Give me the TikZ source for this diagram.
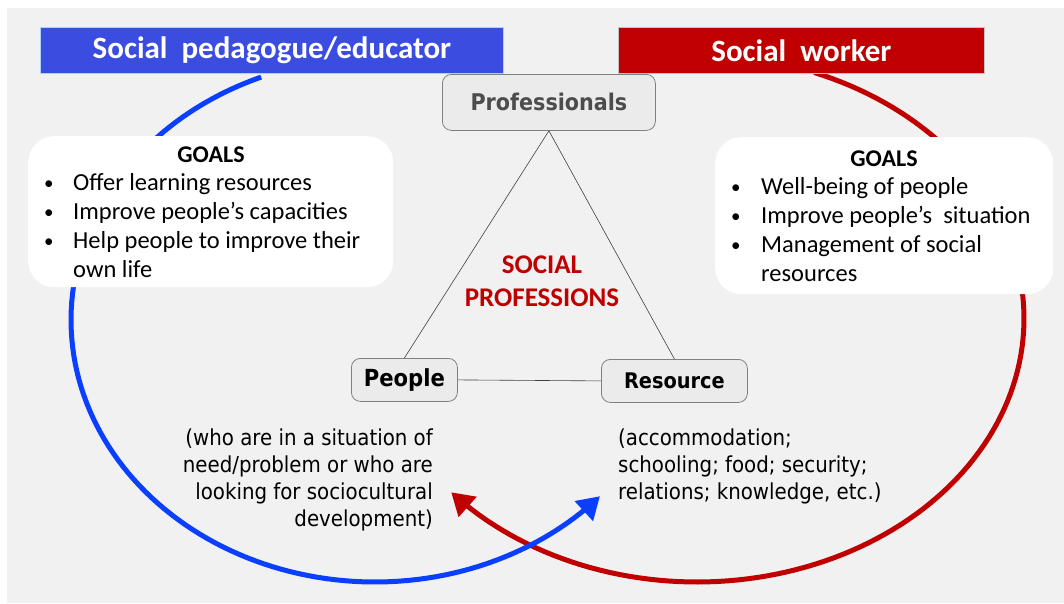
\documentclass[tikz,border=0pt]{standalone}
\usepackage{fontspec}
\setmainfont{Carlito}
\newfontfamily\mmfont{DejaVu Sans Condensed}
\usetikzlibrary{arrows.meta}
\definecolor{bgray}{HTML}{F1F1F1}
\definecolor{titleblue}{HTML}{3B4CE0}
\definecolor{titlered}{HTML}{C00000}
\definecolor{arcblue}{HTML}{0A3FFF}
\definecolor{arcred}{HTML}{C00000}
\definecolor{nodegray}{HTML}{EBEBEB}
\definecolor{edgegray}{HTML}{808080}
\tikzset{
  titlebox/.style={draw=#1!60!cyan!40!white, line width=0.8pt, fill=#1, text=white, font=\bfseries\fontsize{31}{36}\selectfont, inner sep=0pt, anchor=north west},
  mmnode/.style={draw=edgegray, line width=0.8pt, fill=nodegray, rounded corners=9pt, inner sep=0pt, anchor=north west},
  goalbox/.style={fill=white, rounded corners=26pt, anchor=north west, inner sep=0pt},
  goalhead/.style={font=\bfseries\fontsize{24}{29}\selectfont, anchor=base, inner sep=0pt},
  goalline/.style={font=\fontsize{24.5}{29}\selectfont, anchor=base west, inner sep=0pt},
  goalbullet/.style={font=\fontsize{19}{29}\selectfont, anchor=base west, inner sep=0pt},
  bigarc/.style={line width=5pt, -{Triangle[length=22pt,width=26pt]}},
  link/.style={draw=black!75, line width=0.6pt},
  desc/.style={font=\mmfont\fontsize{22}{26.7}\selectfont, inner sep=0pt}
}
\begin{document}
\begin{tikzpicture}[x=1pt,y=-1pt]
\useasboundingbox (0,0) rectangle (1064,603);
\fill[white] (0,0) rectangle (1064,603);
\fill[bgray] (7,8) rectangle (1064,603);
% red arc
\draw[bigarc, arcred] plot[domain=0:1, samples=120, variable=\s]
  ({697+327*cos(-69+208*\s)},{318.5+263.5*sin(-69+208*\s)});
% blue arc
\draw[bigarc, arcblue] plot[domain=0:1, samples=120, variable=\s]
  ({375+304*cos(248-206*\s)},{320+262*sin(248-206*\s)});
% title boxes
\node[titlebox=titleblue, minimum width=463pt, minimum height=46pt] (tb) at (40,27) {\raisebox{-2pt}{Social\ \ pedagogue/educator}};
\node[titlebox=titlered, minimum width=366pt, minimum height=46pt] (tr) at (618,27) {\raisebox{-1pt}{Social\ \ worker}};
% mind map nodes
\node[mmnode, minimum width=213pt, minimum height=56pt, text=black!70, font=\mmfont\bfseries\fontsize{23}{27}\selectfont] (prof) at (442,74) {\raisebox{-2.5pt}{Professionals}};
\node[mmnode, minimum width=106pt, minimum height=43pt, font=\mmfont\bfseries\fontsize{23.5}{27}\selectfont] (people) at (351,358) {People};
\node[mmnode, minimum width=146pt, minimum height=43pt, font=\mmfont\bfseries\fontsize{21.5}{25}\selectfont] (res) at (601,359) {Resource};
\draw[link] (prof.south) -- (people.north);
\draw[link] (prof.south) -- (res.north);
\draw[link] (people.east) -- (res.west);
% center label
\node[text=titlered, font=\bfseries\fontsize{27}{33}\selectfont, align=center] (sp) at (542,281) {SOCIAL\\PROFESSIONS};
% goals boxes
\node[goalbox, minimum width=365pt, minimum height=151pt] (gl) at (28,136) {};
\node[goalbox, minimum width=338pt, minimum height=157pt] (gr) at (715,137) {};
\node[goalhead] (glt) at (211,162) {GOALS};
\node[goalbullet] (glb1) at (44,189) {•};
\node[goalline] (gl1) at (73,190) {Offer learning resources};
\node[goalbullet] (glb2) at (44,218) {•};
\node[goalline] (gl2) at (73,219) {Improve people’s capacities};
\node[goalbullet] (glb3) at (44,247) {•};
\node[goalline] (gl3) at (73,248) {Help people to improve their};
\node[goalline] (gl4) at (73,277) {own life};
\node[goalhead] (grt) at (884,166) {GOALS};
\node[goalbullet] (grb1) at (731,193) {•};
\node[goalline] (gr1) at (761,194) {Well-being of people};
\node[goalbullet] (grb2) at (731,222) {•};
\node[goalline] (gr2) at (761,223) {Improve people’s\ \ situation};
\node[goalbullet] (grb3) at (731,251) {•};
\node[goalline] (gr3) at (761,252) {Management of social};
\node[goalline] (gr4) at (761,281) {resources};
% descriptions
\node[desc, align=right, anchor=north east] (pd) at (433,429)
  {(who are in a situation of\\need/problem or who are\\looking for sociocultural\\development)};
\node[desc, align=left, anchor=north west] (rd) at (618,429)
  {(accommodation;\\schooling; food; security;\\relations; knowledge, etc.)};
\end{tikzpicture}
\end{document}
